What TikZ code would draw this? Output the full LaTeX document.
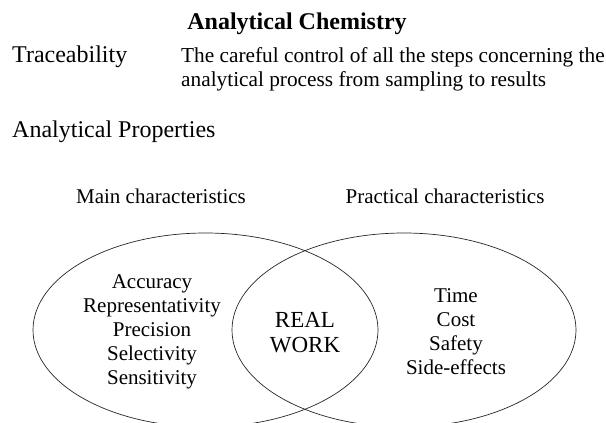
\documentclass[tikz,border=0pt]{standalone}
\usepackage{fontspec}
\setmainfont{Liberation Serif}
\usetikzlibrary{positioning}

\begin{document}
\begin{tikzpicture}[x=1pt, y=-1pt,
    biglabel/.style={inner sep=0pt, font=\fontsize{24}{28}\selectfont},
    smalllabel/.style={inner sep=0pt, font=\fontsize{21}{23.3}\selectfont},
    ring/.style={draw=black!85, line width=0.7pt}]
    \useasboundingbox (0,0) rectangle (606,423);
    \clip (0,0) rectangle (606,423);

    % heading
    \node[biglabel, font=\fontsize{24}{28}\selectfont\bfseries, anchor=base] (title) at (297,30) {Analytical Chemistry};

    % traceability and its meaning (anchor=base is the last line)
    \node[biglabel, anchor=base west] (trace) at (12,62) {Traceability};
    \node[smalllabel, anchor=base west, align=left, font=\fontsize{21.3}{24}\selectfont] (tracedef) at (181,86)
        {The careful control of all the steps concerning the\\analytical process from sampling to results};

    \node[biglabel, anchor=base west] (props) at (12,137) {Analytical Properties};

    % the two sets
    \draw[ring] (205.5,330) ellipse [x radius=172.5, y radius=97];
    \draw[ring] (404,330) ellipse [x radius=172, y radius=97];

    \node[smalllabel, anchor=base] (mainlab) at (161,203) {Main characteristics};
    \node[smalllabel, anchor=base] (praclab) at (445,203) {Practical characteristics};

    % contents
    \node[smalllabel, anchor=base, align=center, font=\fontsize{21}{24}\selectfont] (mainlist) at (152,384)
        {Accuracy\\Representativity\\Precision\\Selectivity\\Sensitivity};
    \node[smalllabel, anchor=base, align=center, font=\fontsize{23}{25}\selectfont] (realwork) at (305,352)
        {REAL\\WORK};
    \node[smalllabel, anchor=base, align=center, font=\fontsize{21}{24}\selectfont] (praclist) at (456,374)
        {Time\\Cost\\Safety\\Side-effects};

\end{tikzpicture}
\end{document}
